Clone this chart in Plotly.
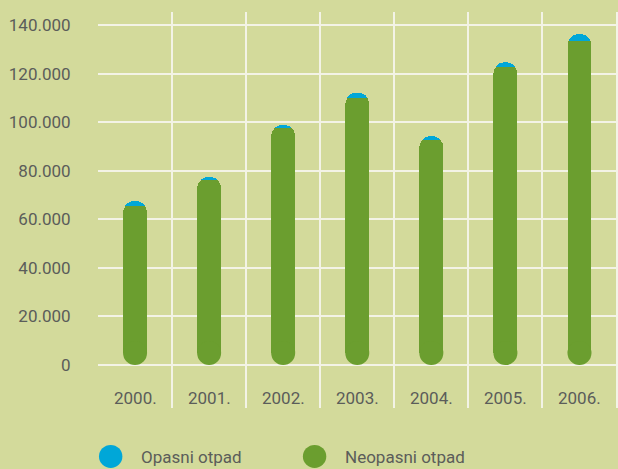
import plotly.graph_objects as go

# godine i količine otpada (t)
years = ['2000.', '2001.', '2002.', '2003.', '2004.', '2005.', '2006.']
neopasni = [65600, 76000, 97500, 109800, 92500, 122800, 133300]
opasni = [1900, 1400, 1300, 2300, 1700, 1800, 2900]
legend_names = ['Opasni otpad', 'Neopasni otpad']

y_ticks = [0, 20000, 40000, 60000, 80000, 100000, 120000, 140000]

BG = '#d3da9b'
GREEN = '#6b9e2f'
BLUE = '#00a7d8'
TEXT = '#5b5d5a'
GRID = '#f3f3e6'
FONT = 'Roboto'
FSIZE = 17

BAR_PX = 24        # širina stupca u pikselima
R_DATA = 4940      # polumjer zaobljenja u jedinicama osi (12 px)

fig = go.Figure()

# prazni razmak do zaobljenog dna
fig.add_trace(go.Bar(x=years, y=[R_DATA] * len(years),
                     marker=dict(color='rgba(0,0,0,0)', line=dict(width=0)),
                     showlegend=False, hoverinfo='skip'))
fig.add_trace(go.Bar(x=years, y=[v - R_DATA for v in neopasni], name=legend_names[1],
                     marker=dict(color=GREEN, line=dict(width=0)), showlegend=False))
fig.add_trace(go.Bar(x=years, y=opasni, name=legend_names[0],
                     marker=dict(color=BLUE, line=dict(width=0)), showlegend=False))
# zaobljeno dno
fig.add_trace(go.Scatter(x=years, y=[R_DATA] * len(years), mode='markers',
                         marker=dict(color=GREEN, size=BAR_PX, line=dict(width=0)),
                         showlegend=False, hoverinfo='skip'))

# oznake godina unutar grafa
for i, yr in enumerate(years):
    fig.add_annotation(x=i, y=-13600, text=yr, showarrow=False,
                       font=dict(family=FONT, size=FSIZE, color=TEXT),
                       xanchor='center', yanchor='middle')

# legenda
leg_colors = [BLUE, GREEN]
leg_x = [0.0019, 0.394]
for name, col, lx in zip(legend_names, leg_colors, leg_x):
    fig.add_shape(type='circle', xref='paper', yref='paper',
                  x0=lx, x1=lx + 0.045, y0=-0.1515, y1=-0.0934,
                  fillcolor=col, line=dict(width=0))
    fig.add_annotation(xref='paper', yref='paper', x=lx + 0.077, y=-0.1237,
                       text=name, showarrow=False, xanchor='left', yanchor='middle',
                       font=dict(family=FONT, size=FSIZE, color=TEXT))

fig.update_layout(
    width=618, height=469,
    margin=dict(l=98, r=0, t=12, b=61, autoexpand=False),
    paper_bgcolor=BG, plot_bgcolor=BG,
    barmode='stack', bargap=0.677,
    barcornerradius='50%',
    separators=',.',
    showlegend=False,
    font=dict(family=FONT, size=FSIZE, color=TEXT),
)
fig.update_xaxes(type='category', range=[-0.5, 6.52], tickson='boundaries',
                 showgrid=True, gridcolor=GRID, gridwidth=1.5, automargin=False,
                 showticklabels=False, ticks='', showline=False, zeroline=False)
fig.update_yaxes(range=[-17700, 145350], tickvals=y_ticks, tickformat=',d',
                 showgrid=True, gridcolor=GRID, gridwidth=1.5, automargin=False,
                 zeroline=True, zerolinecolor=GRID, zerolinewidth=1.5,
                 ticks='outside', ticklen=23, tickcolor=BG, showline=False,
                 tickfont=dict(family=FONT, size=FSIZE, color=TEXT))

fig.write_html('out.html', config={'displayModeBar': False},
               post_script="document.body.style.margin='0';")
